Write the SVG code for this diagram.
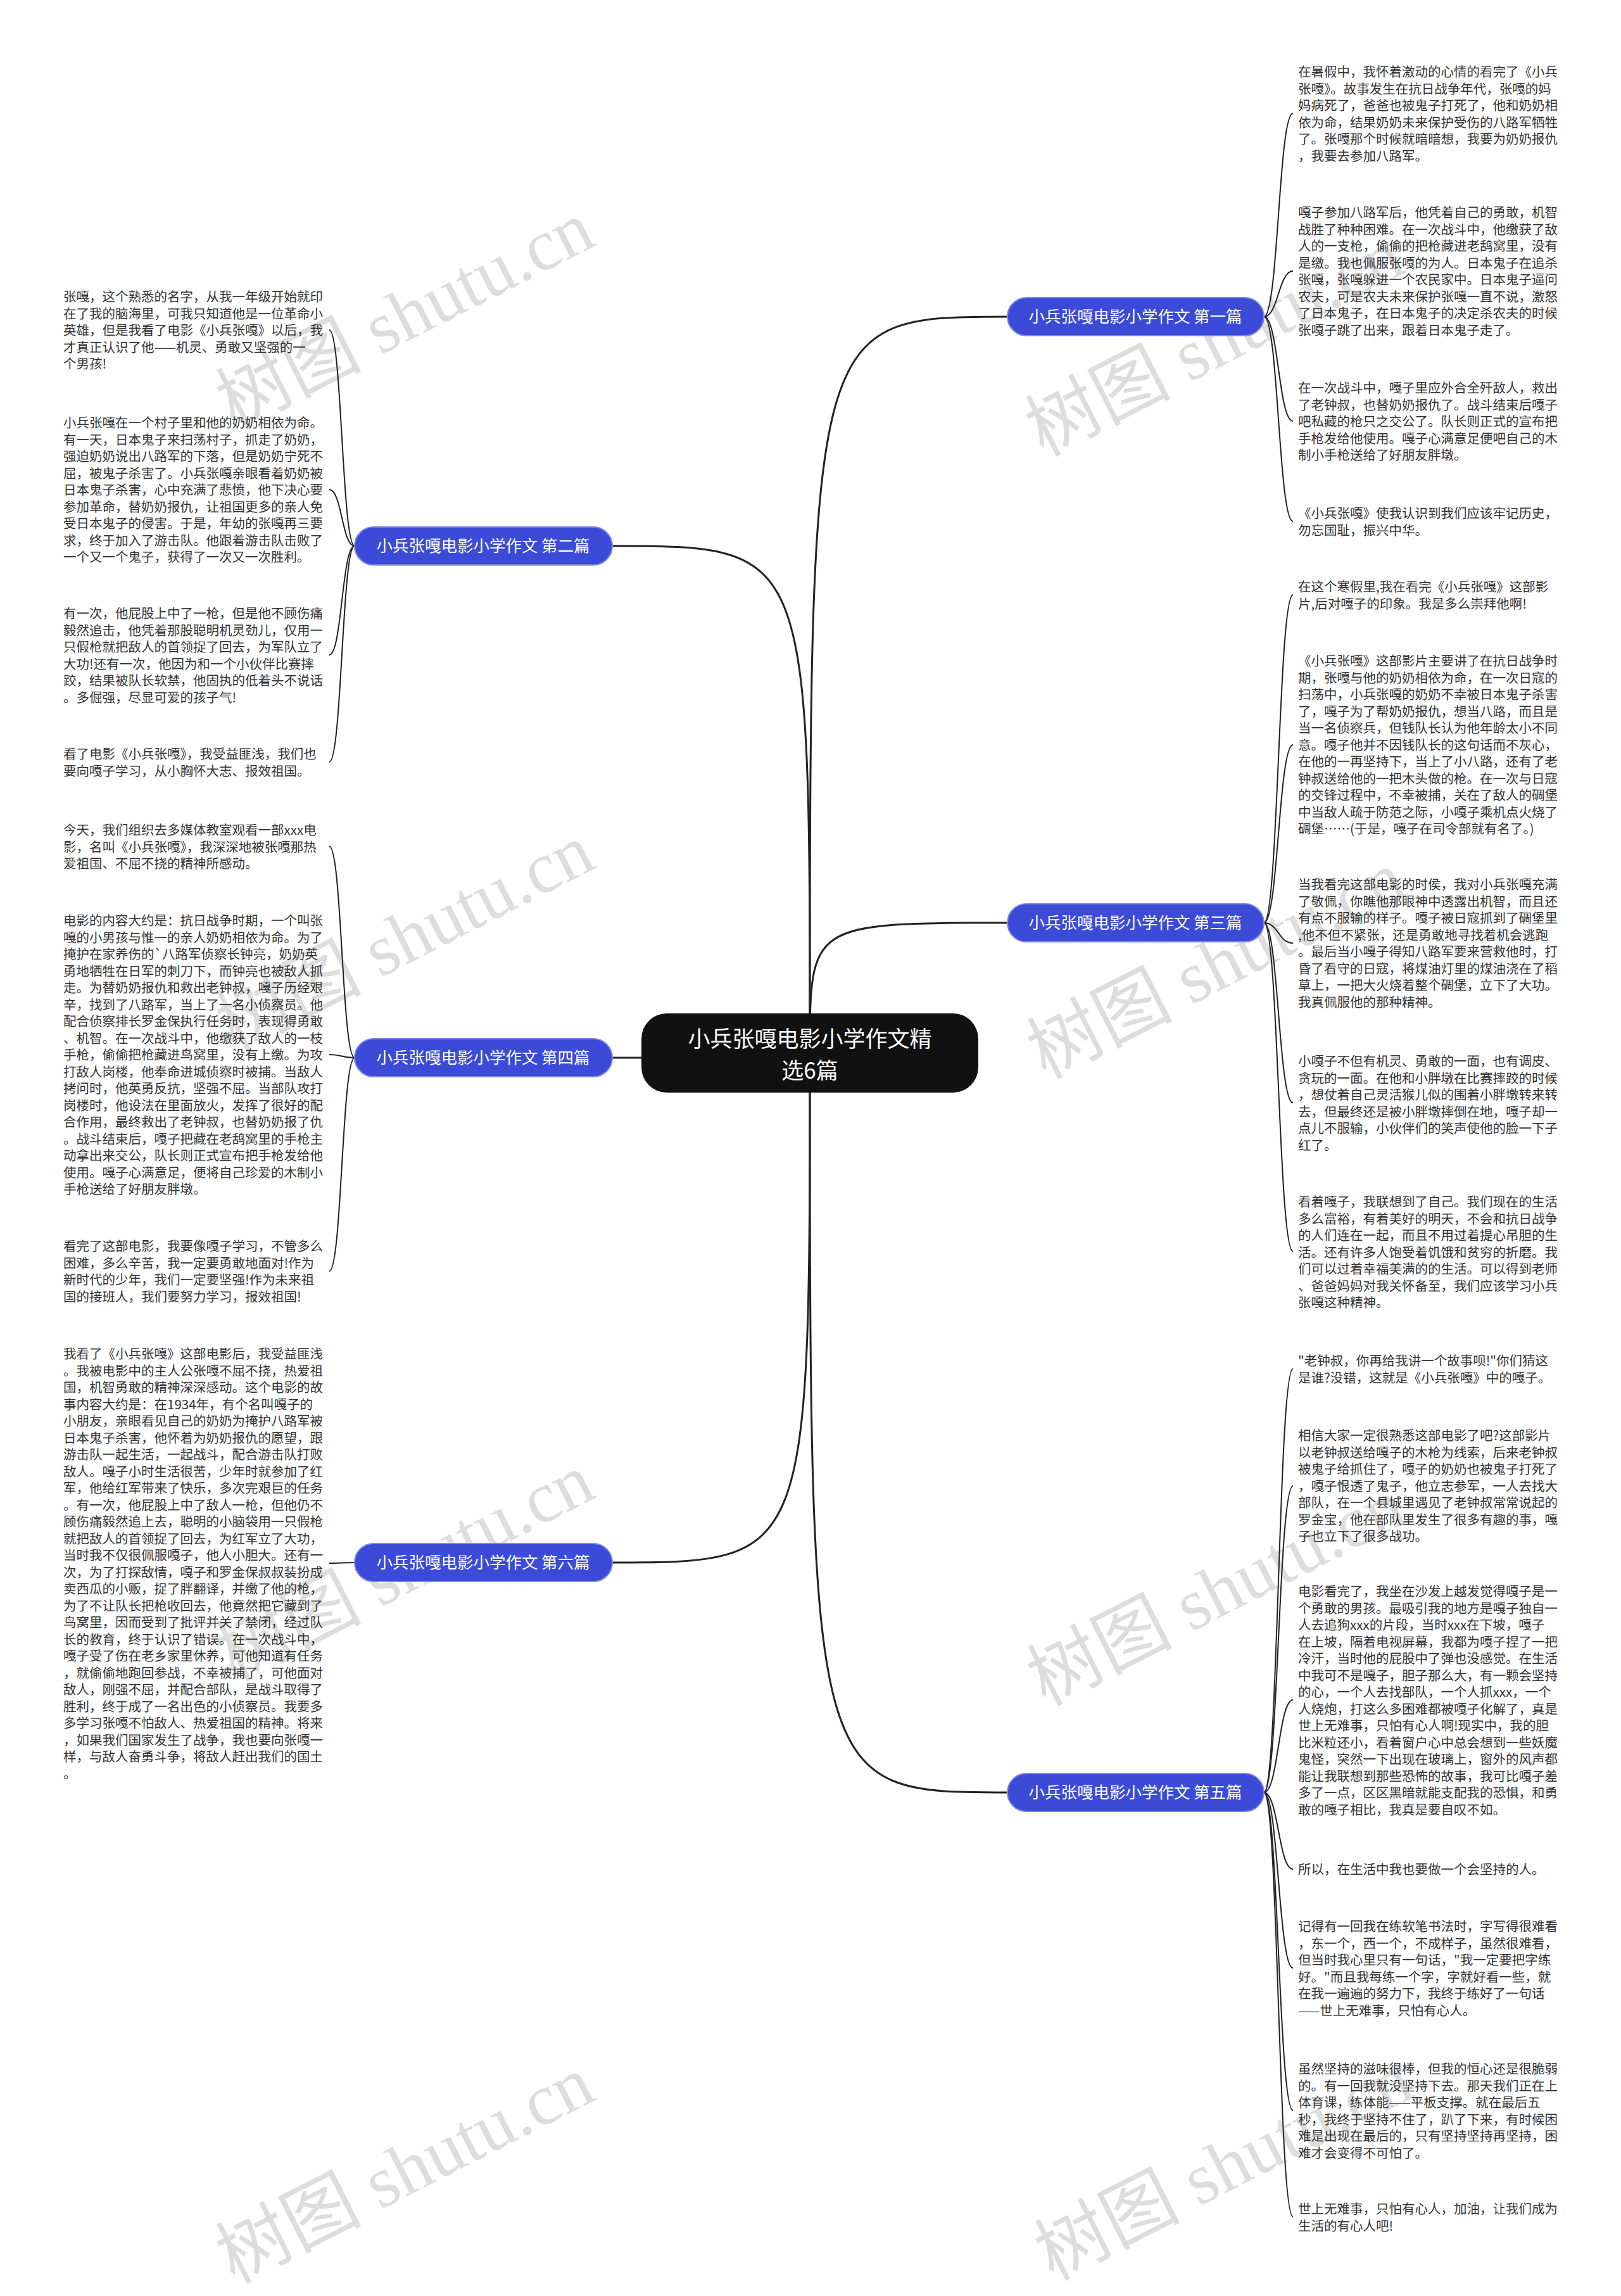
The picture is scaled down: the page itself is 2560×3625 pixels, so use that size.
<svg xmlns="http://www.w3.org/2000/svg" width="2560" height="3625" viewBox="0 0 2560 3625">
<style>
.t{font-family:"Noto Sans CJK SC","Noto Sans",sans-serif;font-size:20.5px;fill:#333}
.b{fill:#3b4bd8;stroke:#7d88ea;stroke-width:2}
.bt{font-family:"Noto Sans CJK SC","Noto Sans",sans-serif;font-size:25.5px;fill:#fff;text-anchor:middle}
.root{fill:#111}
.rt{font-family:"Noto Sans CJK SC","Noto Sans",sans-serif;font-size:35px;fill:#fff;text-anchor:middle}
.c{fill:none;stroke:#222;stroke-width:3}
.l{fill:none;stroke:#222;stroke-width:2}
.wm{font-family:"Liberation Serif","Noto Sans CJK SC",serif;font-size:115px;fill:#000;opacity:.13;text-anchor:middle}
</style>
<g id="watermarks">
<text class="wm" transform="translate(657,532) rotate(-27)">树图 shutu.cn</text>
<text class="wm" transform="translate(657,1515) rotate(-27)">树图 shutu.cn</text>
<text class="wm" transform="translate(657,2509) rotate(-27)">树图 shutu.cn</text>
<text class="wm" transform="translate(657,3460) rotate(-27)">树图 shutu.cn</text>
<text class="wm" transform="translate(1935,575) rotate(-27)">树图 shutu.cn</text>
<text class="wm" transform="translate(1938,1558) rotate(-27)">树图 shutu.cn</text>
<text class="wm" transform="translate(1938,2548) rotate(-27)">树图 shutu.cn</text>
<text class="wm" transform="translate(1950,3455) rotate(-27)">树图 shutu.cn</text>
</g>
<g id="connectors">
<path class="c" d="M1279 1662 C1279 500,1279 500,1591 500"/>
<path class="c" d="M1279 1662 C1279 1457,1279 1457,1591 1457"/>
<path class="c" d="M1279 1662 C1279 2830,1279 2830,1591 2830"/>
<path class="c" d="M1279 1662 C1279 862,1279 862,967 862"/>
<path class="c" d="M1279 1662 C1279 1670,1279 1670,967 1670"/>
<path class="c" d="M1279 1662 C1279 2467,1279 2467,967 2467"/>
<path class="l" d="M1996 500 C2019 500,2019 179,2042 179"/>
<path class="l" d="M1996 500 C2019 500,2019 428,2042 428"/>
<path class="l" d="M1996 500 C2019 500,2019 665,2042 665"/>
<path class="l" d="M1996 500 C2019 500,2019 823,2042 823"/>
<path class="l" d="M1996 1457 C2019 1457,2019 939,2042 939"/>
<path class="l" d="M1996 1457 C2019 1457,2019 1176,2042 1176"/>
<path class="l" d="M1996 1457 C2019 1457,2019 1489,2042 1489"/>
<path class="l" d="M1996 1457 C2019 1457,2019 1741,2042 1741"/>
<path class="l" d="M1996 1457 C2019 1457,2019 1976,2042 1976"/>
<path class="l" d="M1996 2830 C2019 2830,2019 2161,2042 2161"/>
<path class="l" d="M1996 2830 C2019 2830,2019 2346,2042 2346"/>
<path class="l" d="M1996 2830 C2019 2830,2019 2684,2042 2684"/>
<path class="l" d="M1996 2830 C2019 2830,2019 2951,2042 2951"/>
<path class="l" d="M1996 2830 C2019 2830,2019 3107,2042 3107"/>
<path class="l" d="M1996 2830 C2019 2830,2019 3332,2042 3332"/>
<path class="l" d="M1996 2830 C2019 2830,2019 3500,2042 3500"/>
<path class="l" d="M560 862 C540 862,540 521,520 521"/>
<path class="l" d="M560 862 C540 862,540 773,520 773"/>
<path class="l" d="M560 862 C540 862,540 1034,520 1034"/>
<path class="l" d="M560 862 C540 862,540 1203,520 1203"/>
<path class="l" d="M560 1670 C540 1670,540 1336,520 1336"/>
<path class="l" d="M560 1670 C540 1670,540 1665,520 1665"/>
<path class="l" d="M560 1670 C540 1670,540 2007,520 2007"/>
<path class="l" d="M560 2467 C540 2467,540 2468,520 2468"/>
</g>
<g id="root">
<rect class="root" x="1013" y="1600" width="532" height="125" rx="40"/>
<text class="rt" x="1279" y="1653">小兵张嘎电影小学作文精</text>
<text class="rt" x="1279" y="1703">选6篇</text>
</g>
<g id="branch1"><rect class="b" x="1591" y="470" width="405" height="60" rx="30"/><text class="bt" x="1793" y="509">小兵张嘎电影小学作文 第一篇</text></g>
<g id="branch2"><rect class="b" x="560" y="832" width="407" height="60" rx="30"/><text class="bt" x="763" y="871">小兵张嘎电影小学作文 第二篇</text></g>
<g id="branch3"><rect class="b" x="1591" y="1427" width="405" height="60" rx="30"/><text class="bt" x="1793" y="1466">小兵张嘎电影小学作文 第三篇</text></g>
<g id="branch4"><rect class="b" x="560" y="1640" width="407" height="60" rx="30"/><text class="bt" x="763" y="1679">小兵张嘎电影小学作文 第四篇</text></g>
<g id="branch5"><rect class="b" x="1591" y="2800" width="405" height="60" rx="30"/><text class="bt" x="1793" y="2839">小兵张嘎电影小学作文 第五篇</text></g>
<g id="branch6"><rect class="b" x="560" y="2437" width="407" height="60" rx="30"/><text class="bt" x="763" y="2476">小兵张嘎电影小学作文 第六篇</text></g>
<g id="leaf-2-1"><text class="t" y="476"><tspan x="100">张嘎，这个熟悉的名字，从我一年级开始就印</tspan><tspan x="100" dy="26.5">在了我的脑海里，可我只知道他是一位革命小</tspan><tspan x="100" dy="26.5">英雄，但是我看了电影《小兵张嘎》以后，我</tspan><tspan x="100" dy="26.5">才真正认识了他——机灵、勇敢又坚强的一</tspan><tspan x="100" dy="26.5">个男孩!</tspan></text></g>
<g id="leaf-2-2"><text class="t" y="675"><tspan x="100">小兵张嘎在一个村子里和他的奶奶相依为命。</tspan><tspan x="100" dy="26.5">有一天，日本鬼子来扫荡村子，抓走了奶奶，</tspan><tspan x="100" dy="26.5">强迫奶奶说出八路军的下落，但是奶奶宁死不</tspan><tspan x="100" dy="26.5">屈，被鬼子杀害了。小兵张嘎亲眼看着奶奶被</tspan><tspan x="100" dy="26.5">日本鬼子杀害，心中充满了悲愤，他下决心要</tspan><tspan x="100" dy="26.5">参加革命，替奶奶报仇，让祖国更多的亲人免</tspan><tspan x="100" dy="26.5">受日本鬼子的侵害。于是，年幼的张嘎再三要</tspan><tspan x="100" dy="26.5">求，终于加入了游击队。他跟着游击队击败了</tspan><tspan x="100" dy="26.5">一个又一个鬼子，获得了一次又一次胜利。</tspan></text></g>
<g id="leaf-2-3"><text class="t" y="976"><tspan x="100">有一次，他屁股上中了一枪，但是他不顾伤痛</tspan><tspan x="100" dy="26.5">毅然追击，他凭着那股聪明机灵劲儿，仅用一</tspan><tspan x="100" dy="26.5">只假枪就把敌人的首领捉了回去，为军队立了</tspan><tspan x="100" dy="26.5">大功!还有一次，他因为和一个小伙伴比赛摔</tspan><tspan x="100" dy="26.5">跤，结果被队长软禁，他固执的低着头不说话</tspan><tspan x="100" dy="26.5">。多倔强，尽显可爱的孩子气!</tspan></text></g>
<g id="leaf-2-4"><text class="t" y="1198"><tspan x="100">看了电影《小兵张嘎》，我受益匪浅，我们也</tspan><tspan x="100" dy="26.5">要向嘎子学习，从小胸怀大志、报效祖国。</tspan></text></g>
<g id="leaf-4-1"><text class="t" y="1318"><tspan x="100">今天，我们组织去多媒体教室观看一部xxx电</tspan><tspan x="100" dy="26.5">影，名叫《小兵张嘎》，我深深地被张嘎那热</tspan><tspan x="100" dy="26.5">爱祖国、不屈不挠的精神所感动。</tspan></text></g>
<g id="leaf-4-2"><text class="t" y="1461"><tspan x="100">电影的内容大约是：抗日战争时期，一个叫张</tspan><tspan x="100" dy="26.5">嘎的小男孩与惟一的亲人奶奶相依为命。为了</tspan><tspan x="100" dy="26.5">掩护在家养伤的`八路军侦察长钟亮，奶奶英</tspan><tspan x="100" dy="26.5">勇地牺牲在日军的刺刀下，而钟亮也被敌人抓</tspan><tspan x="100" dy="26.5">走。为替奶奶报仇和救出老钟叔，嘎子历经艰</tspan><tspan x="100" dy="26.5">辛，找到了八路军，当上了一名小侦察员。他</tspan><tspan x="100" dy="26.5">配合侦察排长罗金保执行任务时，表现得勇敢</tspan><tspan x="100" dy="26.5">、机智。在一次战斗中，他缴获了敌人的一枝</tspan><tspan x="100" dy="26.5">手枪，偷偷把枪藏进鸟窝里，没有上缴。为攻</tspan><tspan x="100" dy="26.5">打敌人岗楼，他奉命进城侦察时被捕。当敌人</tspan><tspan x="100" dy="26.5">拷问时，他英勇反抗，坚强不屈。当部队攻打</tspan><tspan x="100" dy="26.5">岗楼时，他设法在里面放火，发挥了很好的配</tspan><tspan x="100" dy="26.5">合作用，最终救出了老钟叔，也替奶奶报了仇</tspan><tspan x="100" dy="26.5">。战斗结束后，嘎子把藏在老鸹窝里的手枪主</tspan><tspan x="100" dy="26.5">动拿出来交公，队长则正式宣布把手枪发给他</tspan><tspan x="100" dy="26.5">使用。嘎子心满意足，便将自己珍爱的木制小</tspan><tspan x="100" dy="26.5">手枪送给了好朋友胖墩。</tspan></text></g>
<g id="leaf-4-3"><text class="t" y="1975"><tspan x="100">看完了这部电影，我要像嘎子学习，不管多么</tspan><tspan x="100" dy="26.5">困难，多么辛苦，我一定要勇敢地面对!作为</tspan><tspan x="100" dy="26.5">新时代的少年，我们一定要坚强!作为未来祖</tspan><tspan x="100" dy="26.5">国的接班人，我们要努力学习，报效祖国!</tspan></text></g>
<g id="leaf-6-1"><text class="t" y="2145"><tspan x="100">我看了《小兵张嘎》这部电影后，我受益匪浅</tspan><tspan x="100" dy="26.5">。我被电影中的主人公张嘎不屈不挠，热爱祖</tspan><tspan x="100" dy="26.5">国，机智勇敢的精神深深感动。这个电影的故</tspan><tspan x="100" dy="26.5">事内容大约是：在1934年，有个名叫嘎子的</tspan><tspan x="100" dy="26.5">小朋友，亲眼看见自己的奶奶为掩护八路军被</tspan><tspan x="100" dy="26.5">日本鬼子杀害，他怀着为奶奶报仇的愿望，跟</tspan><tspan x="100" dy="26.5">游击队一起生活，一起战斗，配合游击队打败</tspan><tspan x="100" dy="26.5">敌人。嘎子小时生活很苦，少年时就参加了红</tspan><tspan x="100" dy="26.5">军，他给红军带来了快乐，多次完艰巨的任务</tspan><tspan x="100" dy="26.5">。有一次，他屁股上中了敌人一枪，但他仍不</tspan><tspan x="100" dy="26.5">顾伤痛毅然追上去，聪明的小脑袋用一只假枪</tspan><tspan x="100" dy="26.5">就把敌人的首领捉了回去，为红军立了大功，</tspan><tspan x="100" dy="26.5">当时我不仅很佩服嘎子，他人小胆大。还有一</tspan><tspan x="100" dy="26.5">次，为了打探敌情，嘎子和罗金保叔叔装扮成</tspan><tspan x="100" dy="26.5">卖西瓜的小贩，捉了胖翻译，并缴了他的枪，</tspan><tspan x="100" dy="26.5">为了不让队长把枪收回去，他竟然把它藏到了</tspan><tspan x="100" dy="26.5">鸟窝里，因而受到了批评并关了禁闭，经过队</tspan><tspan x="100" dy="26.5">长的教育，终于认识了错误。在一次战斗中，</tspan><tspan x="100" dy="26.5">嘎子受了伤在老乡家里休养，可他知道有任务</tspan><tspan x="100" dy="26.5">，就偷偷地跑回参战，不幸被捕了，可他面对</tspan><tspan x="100" dy="26.5">敌人，刚强不屈，并配合部队，是战斗取得了</tspan><tspan x="100" dy="26.5">胜利，终于成了一名出色的小侦察员。我要多</tspan><tspan x="100" dy="26.5">多学习张嘎不怕敌人、热爱祖国的精神。将来</tspan><tspan x="100" dy="26.5">，如果我们国家发生了战争，我也要向张嘎一</tspan><tspan x="100" dy="26.5">样，与敌人奋勇斗争，将敌人赶出我们的国土</tspan><tspan x="100" dy="26.5">。</tspan></text></g>
<g id="leaf-1-1"><text class="t" y="121"><tspan x="2050">在暑假中，我怀着激动的心情的看完了《小兵</tspan><tspan x="2050" dy="26.5">张嘎》。故事发生在抗日战争年代，张嘎的妈</tspan><tspan x="2050" dy="26.5">妈病死了，爸爸也被鬼子打死了，他和奶奶相</tspan><tspan x="2050" dy="26.5">依为命，结果奶奶未来保护受伤的八路军牺牲</tspan><tspan x="2050" dy="26.5">了。张嘎那个时候就暗暗想，我要为奶奶报仇</tspan><tspan x="2050" dy="26.5">，我要去参加八路军。</tspan></text></g>
<g id="leaf-1-2"><text class="t" y="343"><tspan x="2050">嘎子参加八路军后，他凭着自己的勇敢，机智</tspan><tspan x="2050" dy="26.5">战胜了种种困难。在一次战斗中，他缴获了敌</tspan><tspan x="2050" dy="26.5">人的一支枪，偷偷的把枪藏进老鸹窝里，没有</tspan><tspan x="2050" dy="26.5">是缴。我也佩服张嘎的为人。日本鬼子在追杀</tspan><tspan x="2050" dy="26.5">张嘎，张嘎躲进一个农民家中。日本鬼子逼问</tspan><tspan x="2050" dy="26.5">农夫，可是农夫未来保护张嘎一直不说，激怒</tspan><tspan x="2050" dy="26.5">了日本鬼子，在日本鬼子的决定杀农夫的时候</tspan><tspan x="2050" dy="26.5">张嘎子跳了出来，跟着日本鬼子走了。</tspan></text></g>
<g id="leaf-1-3"><text class="t" y="620"><tspan x="2050">在一次战斗中，嘎子里应外合全歼敌人，救出</tspan><tspan x="2050" dy="26.5">了老钟叔，也替奶奶报仇了。战斗结束后嘎子</tspan><tspan x="2050" dy="26.5">吧私藏的枪只之交公了。队长则正式的宣布把</tspan><tspan x="2050" dy="26.5">手枪发给他使用。嘎子心满意足便吧自己的木</tspan><tspan x="2050" dy="26.5">制小手枪送给了好朋友胖墩。</tspan></text></g>
<g id="leaf-1-4"><text class="t" y="818"><tspan x="2050">《小兵张嘎》使我认识到我们应该牢记历史，</tspan><tspan x="2050" dy="26.5">勿忘国耻，振兴中华。</tspan></text></g>
<g id="leaf-3-1"><text class="t" y="934"><tspan x="2050">在这个寒假里,我在看完《小兵张嘎》这部影</tspan><tspan x="2050" dy="26.5">片,后对嘎子的印象。我是多么崇拜他啊!</tspan></text></g>
<g id="leaf-3-2"><text class="t" y="1051"><tspan x="2050">《小兵张嘎》这部影片主要讲了在抗日战争时</tspan><tspan x="2050" dy="26.5">期，张嘎与他的奶奶相依为命，在一次日寇的</tspan><tspan x="2050" dy="26.5">扫荡中，小兵张嘎的奶奶不幸被日本鬼子杀害</tspan><tspan x="2050" dy="26.5">了，嘎子为了帮奶奶报仇，想当八路，而且是</tspan><tspan x="2050" dy="26.5">当一名侦察兵，但钱队长认为他年龄太小不同</tspan><tspan x="2050" dy="26.5">意。嘎子他并不因钱队长的这句话而不灰心，</tspan><tspan x="2050" dy="26.5">在他的一再坚持下，当上了小八路，还有了老</tspan><tspan x="2050" dy="26.5">钟叔送给他的一把木头做的枪。在一次与日寇</tspan><tspan x="2050" dy="26.5">的交锋过程中，不幸被捕，关在了敌人的碉堡</tspan><tspan x="2050" dy="26.5">中当敌人疏于防范之际，小嘎子乘机点火烧了</tspan><tspan x="2050" dy="26.5">碉堡……(于是，嘎子在司令部就有名了。)</tspan></text></g>
<g id="leaf-3-3"><text class="t" y="1404"><tspan x="2050">当我看完这部电影的时侯，我对小兵张嘎充满</tspan><tspan x="2050" dy="26.5">了敬佩，你瞧他那眼神中透露出机智，而且还</tspan><tspan x="2050" dy="26.5">有点不服输的样子。嘎子被日寇抓到了碉堡里</tspan><tspan x="2050" dy="26.5">,他不但不紧张，还是勇敢地寻找着机会逃跑</tspan><tspan x="2050" dy="26.5">。最后当小嘎子得知八路军要来营救他时，打</tspan><tspan x="2050" dy="26.5">昏了看守的日寇，将煤油灯里的煤油浇在了稻</tspan><tspan x="2050" dy="26.5">草上，一把大火烧着整个碉堡，立下了大功。</tspan><tspan x="2050" dy="26.5">我真佩服他的那种精神。</tspan></text></g>
<g id="leaf-3-4"><text class="t" y="1683"><tspan x="2050">小嘎子不但有机灵、勇敢的一面，也有调皮、</tspan><tspan x="2050" dy="26.5">贪玩的一面。在他和小胖墩在比赛摔跤的时候</tspan><tspan x="2050" dy="26.5">，想仗着自己灵活猴儿似的围着小胖墩转来转</tspan><tspan x="2050" dy="26.5">去，但最终还是被小胖墩摔倒在地，嘎子却一</tspan><tspan x="2050" dy="26.5">点儿不服输，小伙伴们的笑声使他的脸一下子</tspan><tspan x="2050" dy="26.5">红了。</tspan></text></g>
<g id="leaf-3-5"><text class="t" y="1905"><tspan x="2050">看着嘎子，我联想到了自己。我们现在的生活</tspan><tspan x="2050" dy="26.5">多么富裕，有着美好的明天，不会和抗日战争</tspan><tspan x="2050" dy="26.5">的人们连在一起，而且不用过着提心吊胆的生</tspan><tspan x="2050" dy="26.5">活。还有许多人饱受着饥饿和贫穷的折磨。我</tspan><tspan x="2050" dy="26.5">们可以过着幸福美满的的生活。可以得到老师</tspan><tspan x="2050" dy="26.5">、爸爸妈妈对我关怀备至，我们应该学习小兵</tspan><tspan x="2050" dy="26.5">张嘎这种精神。</tspan></text></g>
<g id="leaf-5-1"><text class="t" y="2156"><tspan x="2050">"老钟叔，你再给我讲一个故事呗!"你们猜这</tspan><tspan x="2050" dy="26.5">是谁?没错，这就是《小兵张嘎》中的嘎子。</tspan></text></g>
<g id="leaf-5-2"><text class="t" y="2274"><tspan x="2050">相信大家一定很熟悉这部电影了吧?这部影片</tspan><tspan x="2050" dy="26.5">以老钟叔送给嘎子的木枪为线索，后来老钟叔</tspan><tspan x="2050" dy="26.5">被鬼子给抓住了，嘎子的奶奶也被鬼子打死了</tspan><tspan x="2050" dy="26.5">，嘎子恨透了鬼子，他立志参军，一人去找大</tspan><tspan x="2050" dy="26.5">部队，在一个县城里遇见了老钟叔常常说起的</tspan><tspan x="2050" dy="26.5">罗金宝，他在部队里发生了很多有趣的事，嘎</tspan><tspan x="2050" dy="26.5">子也立下了很多战功。</tspan></text></g>
<g id="leaf-5-3"><text class="t" y="2520"><tspan x="2050">电影看完了，我坐在沙发上越发觉得嘎子是一</tspan><tspan x="2050" dy="26.5">个勇敢的男孩。最吸引我的地方是嘎子独自一</tspan><tspan x="2050" dy="26.5">人去追狗xxx的片段，当时xxx在下坡，嘎子</tspan><tspan x="2050" dy="26.5">在上坡，隔着电视屏幕，我都为嘎子捏了一把</tspan><tspan x="2050" dy="26.5">冷汗，当时他的屁股中了弹也没感觉。在生活</tspan><tspan x="2050" dy="26.5">中我可不是嘎子，胆子那么大，有一颗会坚持</tspan><tspan x="2050" dy="26.5">的心，一个人去找部队，一个人抓xxx，一个</tspan><tspan x="2050" dy="26.5">人烧炮，打这么多困难都被嘎子化解了，真是</tspan><tspan x="2050" dy="26.5">世上无难事，只怕有心人啊!现实中，我的胆</tspan><tspan x="2050" dy="26.5">比米粒还小，看着窗户心中总会想到一些妖魔</tspan><tspan x="2050" dy="26.5">鬼怪，突然一下出现在玻璃上，窗外的风声都</tspan><tspan x="2050" dy="26.5">能让我联想到那些恐怖的故事，我可比嘎子差</tspan><tspan x="2050" dy="26.5">多了一点，区区黑暗就能支配我的恐惧，和勇</tspan><tspan x="2050" dy="26.5">敢的嘎子相比，我真是要自叹不如。</tspan></text></g>
<g id="leaf-5-4"><text class="t" y="2959"><tspan x="2050">所以，在生活中我也要做一个会坚持的人。</tspan></text></g>
<g id="leaf-5-5"><text class="t" y="3049"><tspan x="2050">记得有一回我在练软笔书法时，字写得很难看</tspan><tspan x="2050" dy="26.5">，东一个，西一个，不成样子，虽然很难看，</tspan><tspan x="2050" dy="26.5">但当时我心里只有一句话，"我一定要把字练</tspan><tspan x="2050" dy="26.5">好。"而且我每练一个字，字就好看一些，就</tspan><tspan x="2050" dy="26.5">在我一遍遍的努力下，我终于练好了一句话</tspan><tspan x="2050" dy="26.5">——世上无难事，只怕有心人。</tspan></text></g>
<g id="leaf-5-6"><text class="t" y="3274"><tspan x="2050">虽然坚持的滋味很棒，但我的恒心还是很脆弱</tspan><tspan x="2050" dy="26.5">的。有一回我就没坚持下去。那天我们正在上</tspan><tspan x="2050" dy="26.5">体育课，练体能——平板支撑。就在最后五</tspan><tspan x="2050" dy="26.5">秒，我终于坚持不住了，趴了下来，有时候困</tspan><tspan x="2050" dy="26.5">难是出现在最后的，只有坚持坚持再坚持，困</tspan><tspan x="2050" dy="26.5">难才会变得不可怕了。</tspan></text></g>
<g id="leaf-5-7"><text class="t" y="3495"><tspan x="2050">世上无难事，只怕有心人，加油，让我们成为</tspan><tspan x="2050" dy="26.5">生活的有心人吧!</tspan></text></g>
</svg>
